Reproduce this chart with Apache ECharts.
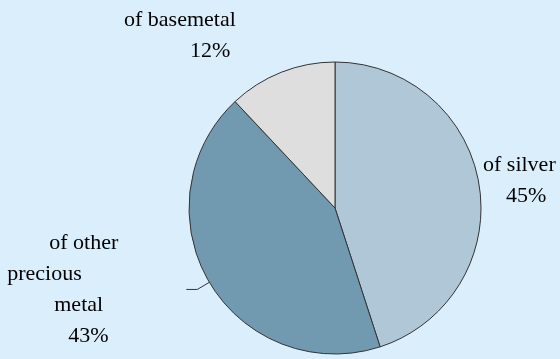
<!DOCTYPE html>
<html>
<head>
<meta charset="utf-8">
<script src="https://cdn.jsdelivr.net/npm/echarts@6/dist/echarts.min.js"></script>
<style>
  html, body { margin: 0; padding: 0; background: #dbeefc; }
  #chart { width: 560px; height: 359px; }
</style>
</head>
<body>
<div id="chart"></div>
<script>
// 分类与占比
const categories = ['of silver', 'of other precious metal', 'of basemetal']
const shares = [45, 43, 12]
// 标签分行文字
const nameLines = [['of silver'], ['of other', 'precious', 'metal'], ['of basemetal']]

const sliceColors = ['#afc7d7', '#7199b0', '#dedede']
// 每行缩进（像素）
const indents = [[0, 23], [42, 0, 47, 61], [0, 66]]
const font = 'Liberation Serif'

const rich = {}
indents.forEach((row, i) => {
  row.forEach((pad, k) => {
    rich['l' + i + '_' + k] = {
      align: 'left',
      padding: [0, 0, 0, pad],
      fontFamily: font,
      fontSize: 22,
      lineHeight: 31,
      color: '#000000'
    }
  })
})

const seriesData = categories.map((name, i) => ({
  name: name,
  value: shares[i],
  itemStyle: { color: sliceColors[i] },
  label: i === 1 ? { padding: [0, 63, 0, 0] } : {},
  labelLine: i === 1
    ? { show: true, length: 14, length2: 11, lineStyle: { color: '#333333', width: 1 } }
    : { show: false, length: 0, length2: 0 }
}))

const chart = echarts.init(document.getElementById('chart'))
chart.setOption({
  animation: false,
  backgroundColor: '#dbeefc',
  series: [{
    type: 'pie',
    center: [335, 208],
    radius: 146,
    startAngle: 90,
    clockwise: true,
    avoidLabelOverlap: false,
    data: seriesData,
    itemStyle: {
      borderColor: '#333333',
      borderWidth: 1
    },
    label: {
      show: true,
      position: 'outside',
      fontFamily: font,
      fontSize: 22,
      lineHeight: 31,
      color: '#000000',
      formatter: (p) => {
        const lines = nameLines[p.dataIndex].concat(p.value + '%')
        return lines.map((t, k) => '{l' + p.dataIndex + '_' + k + '|' + t + '}').join('\n')
      },
      rich: rich
    },
    labelLayout: (p) => {
      if (p.dataIndex === 0) return { x: 483, y: 181, align: 'left', verticalAlign: 'middle' }
      if (p.dataIndex === 2) return { x: 124, y: 35.5, align: 'left', verticalAlign: 'middle' }
      return {}
    },
    emphasis: { disabled: true }
  }]
})
</script>
</body>
</html>
